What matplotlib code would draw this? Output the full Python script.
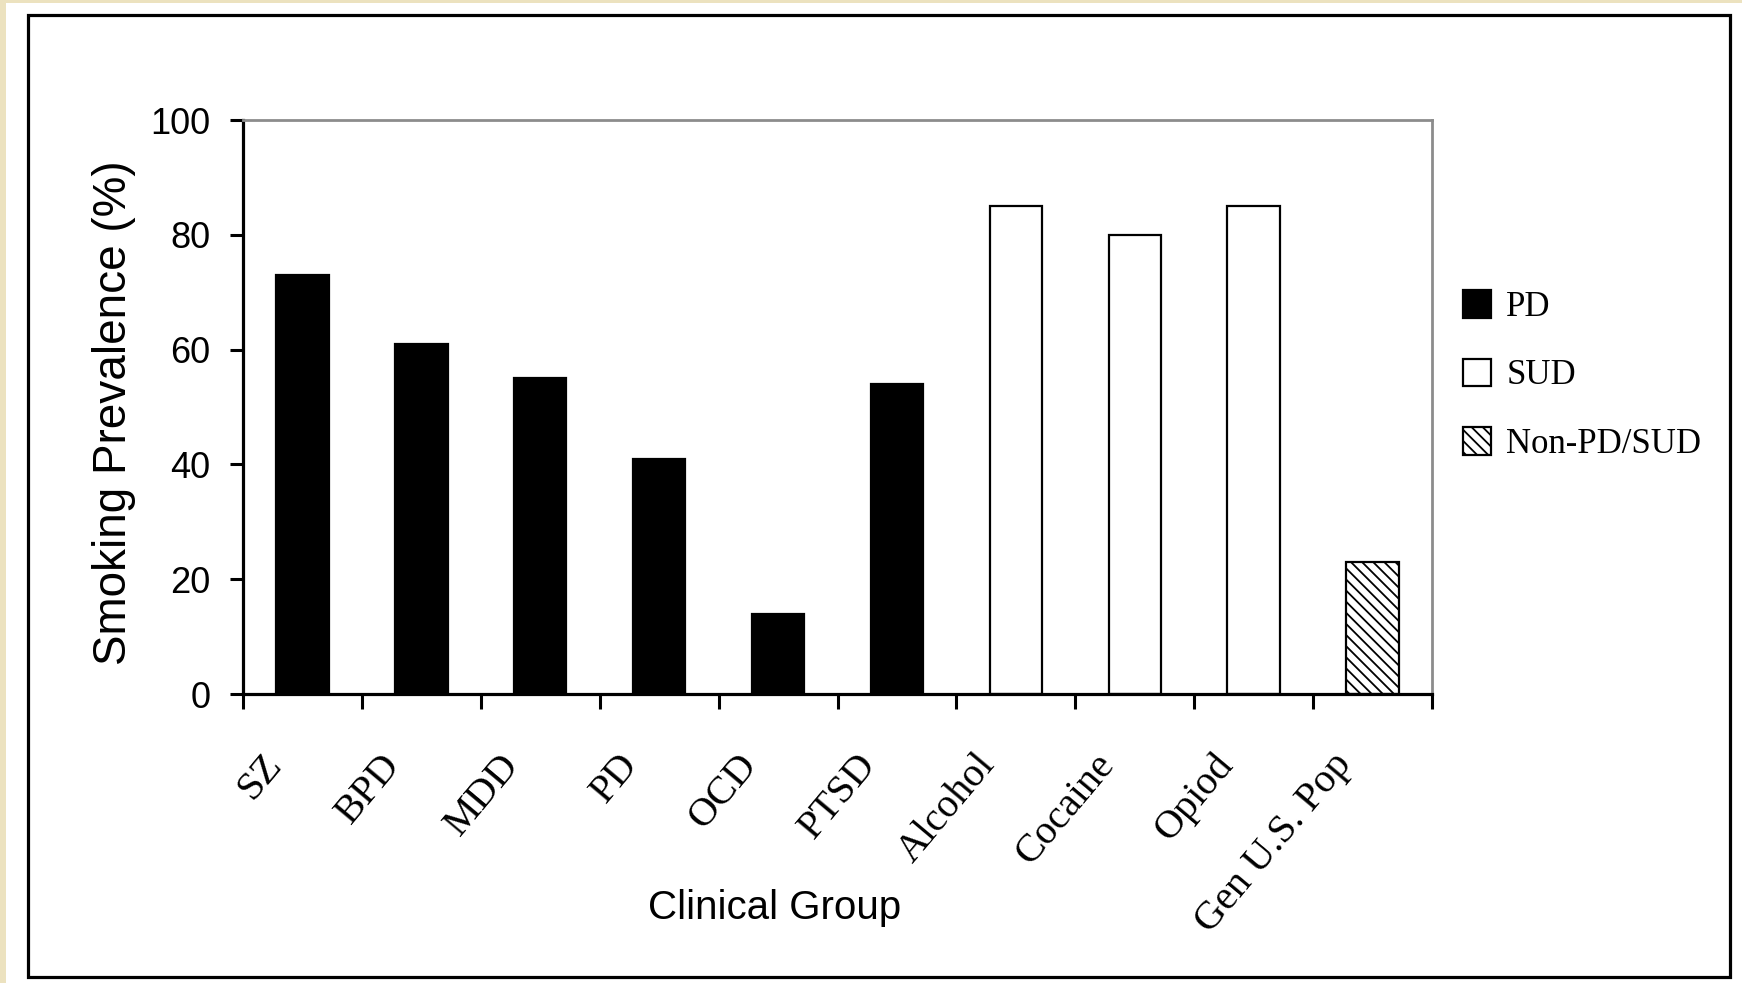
import numpy as np
import matplotlib
matplotlib.use("Agg")
import matplotlib.pyplot as plt
from matplotlib.patches import Rectangle, Patch
from matplotlib.transforms import ScaledTranslation

# values
groups = ["SZ", "BPD", "MDD", "PD", "OCD", "PTSD",
          "Alcohol", "Cocaine", "Opiod", "Gen U.S. Pop"]
prevalence = [73, 61, 55, 41, 14, 54, 85, 80, 85, 23]
group_type = ["PD", "PD", "PD", "PD", "PD", "PD",
              "SUD", "SUD", "SUD", "Non-PD/SUD"]
legend_order = ["PD", "SUD", "Non-PD/SUD"]
y_ticks = [0, 20, 40, 60, 80, 100]

styles = {
    "PD": dict(facecolor="black", edgecolor="black", hatch=None),
    "SUD": dict(facecolor="white", edgecolor="black", hatch=None),
    "Non-PD/SUD": dict(facecolor="white", edgecolor="black", hatch="\\\\\\"),
}

W, H, DPI = 1742, 983, 100
plt.rcParams["hatch.linewidth"] = 1.3
sans = ["Liberation Sans", "DejaVu Sans"]
serif = ["Liberation Serif", "DejaVu Serif"]

fig = plt.figure(figsize=(W / DPI, H / DPI), dpi=DPI)
fig.patch.set_facecolor("#ECE2BF")

# white panel with black frame
fig.patches.append(Rectangle((6 / W, 0), 1 - 6 / W, 1 - 3 / H, transform=fig.transFigure,
                             facecolor="white", edgecolor="none", zorder=-10))
fig.patches.append(Rectangle((27.5 / W, 1 - 976.5 / H), (1729.5 - 27.5) / W, (976.5 - 14.5) / H,
                             transform=fig.transFigure, facecolor="none",
                             edgecolor="black", linewidth=2.3, zorder=-9))

ax = fig.add_axes([243 / W, 1 - 694 / H, 1189 / W, 574 / H])
ax.set_facecolor("white")

x = np.arange(len(groups))
for xi, val, t in zip(x, prevalence, group_type):
    s = styles[t]
    ax.bar(xi, val, width=0.44, facecolor=s["facecolor"], edgecolor=s["edgecolor"],
           hatch=s["hatch"], linewidth=1.6, zorder=2)

ax.set_xlim(-0.5, len(groups) - 0.5)
ax.set_ylim(0, 100)
ax.set_yticks(y_ticks)
ax.set_yticklabels([str(v) for v in y_ticks], family=sans, fontsize=26)

# tick marks at the category boundaries, labels at the centres
ax.set_xticks(np.arange(len(groups) + 1) - 0.5)
ax.set_xticklabels([])
ax.set_xticks(x, minor=True)
ax.set_xticklabels(groups, minor=True, rotation=50, ha="right", va="top",
                   family=serif, fontsize=29)
ax.tick_params(axis="x", which="major", direction="out", length=11, width=2.2, color="black")
ax.tick_params(axis="x", which="minor", length=0, pad=38)
ax.tick_params(axis="y", direction="out", length=9.5, width=2.2, pad=14)
shift = ScaledTranslation(-13 / DPI, 0, fig.dpi_scale_trans)
for lab in ax.get_xticklabels(minor=True):
    lab.set_transform(lab.get_transform() + shift)

for side in ["left", "bottom"]:
    ax.spines[side].set_color("black")
    ax.spines[side].set_linewidth(2.3)
for side in ["top", "right"]:
    ax.spines[side].set_color("#8C8C8C")
    ax.spines[side].set_linewidth(2.0)

ax.set_ylabel("Smoking Prevalence (%)", family=sans, fontsize=33)
ax.yaxis.set_label_coords((136 - 243) / 1189, (694 - 413) / 574)
ax.set_xlabel("Clinical Group", family=sans, fontsize=29)
ax.xaxis.set_label_coords((775 - 243) / 1189, -(889 - 694) / 574)

handles = [Patch(facecolor=styles[k]["facecolor"], edgecolor="black",
                 hatch=styles[k]["hatch"], linewidth=1.6) for k in legend_order]
ax.legend(handles, legend_order, loc="upper left",
          bbox_to_anchor=(1463 / W, 1 - 290 / H), bbox_transform=fig.transFigure,
          frameon=False, borderpad=0, borderaxespad=0, handlelength=0.8,
          handleheight=0.85, handletextpad=0.45, labelspacing=1.0,
          prop=dict(family=serif, size=25))

fig.savefig("out.png", dpi=DPI, facecolor=fig.get_facecolor())
